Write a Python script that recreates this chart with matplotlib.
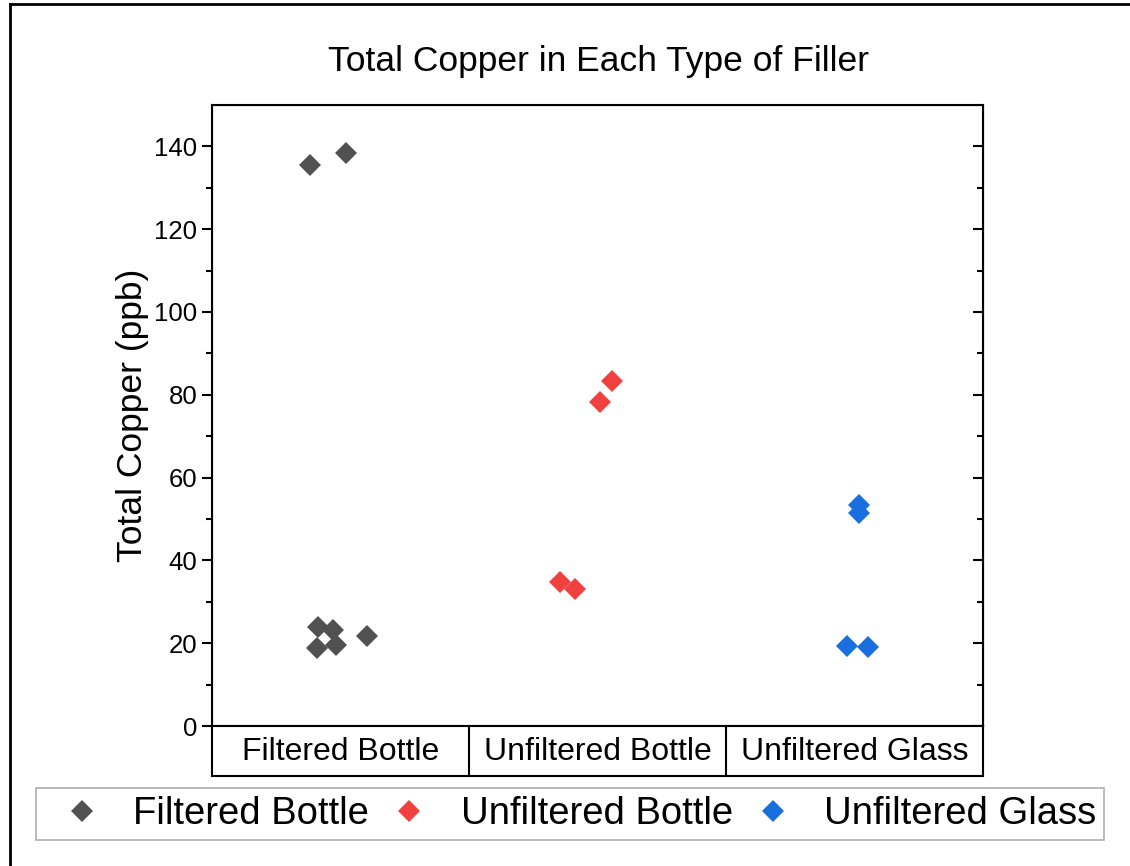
"""Total copper by filler type, Origin-style scatter with category boxes."""

import matplotlib

matplotlib.use("Agg")
import matplotlib.pyplot as plt
from matplotlib.lines import Line2D
from matplotlib.ticker import FixedLocator, MultipleLocator

plt.rcParams["font.family"] = ["Liberation Sans", "DejaVu Sans"]

# categories and measured values (ppb), x jitter around each category
categories = ["Filtered Bottle", "Unfiltered Bottle", "Unfiltered Glass"]

filtered_bottle_x = [0.88, 1.02, 0.914, 0.97, 0.907, 0.984, 1.105]
filtered_bottle_y = [135.4, 138.3, 24.0, 23.3, 18.9, 19.6, 21.8]

unfiltered_bottle_x = [2.058, 2.008, 1.856, 1.911]
unfiltered_bottle_y = [83.4, 78.3, 34.8, 33.1]

unfiltered_glass_x = [3.016, 3.016, 2.969, 3.054]
unfiltered_glass_y = [53.4, 51.5, 19.3, 19.1]

colors = ["#515151", "#F14040", "#1A6FDF"]

W, H = 1130, 866
fig = plt.figure(figsize=(W / 100, H / 100), dpi=100)

# main axes
ax = fig.add_axes([212 / W, 1 - 726 / H, (983 - 212) / W, (726 - 105) / H])
series = [
    (filtered_bottle_x, filtered_bottle_y),
    (unfiltered_bottle_x, unfiltered_bottle_y),
    (unfiltered_glass_x, unfiltered_glass_y),
]
handles = []
for (xs, ys), color, name in zip(series, colors, categories):
    h, = ax.plot(xs, ys, linestyle="none", marker="D", markersize=10.7,
                 color=color, markeredgewidth=0, label=name)
    handles.append(h)

minor_ticks = list(range(10, 150, 20))

ax.set_xlim(0.5, 3.5)
ax.set_ylim(0, 150)
ax.set_xticks([])
ax.yaxis.set_major_locator(MultipleLocator(20))
ax.yaxis.set_minor_locator(FixedLocator(minor_ticks))
ax.tick_params(axis="y", which="both", direction="out", left=True, right=False,
               labelsize=18.5, width=1.5)
ax.tick_params(axis="y", which="major", length=7)
ax.tick_params(axis="y", which="minor", length=4)
for spine in ax.spines.values():
    spine.set_linewidth(1.5)
ax.set_ylabel("Total Copper (ppb)", fontsize=25.5, labelpad=4)

# inward ticks on the right side
ax_r = ax.twinx()
ax_r.set_ylim(ax.get_ylim())
ax_r.yaxis.set_major_locator(MultipleLocator(20))
ax_r.yaxis.set_minor_locator(FixedLocator(minor_ticks))
ax_r.tick_params(axis="y", which="both", direction="in", labelright=False, width=1.5)
ax_r.tick_params(axis="y", which="major", length=7)
ax_r.tick_params(axis="y", which="minor", length=4)

# category label boxes under the plot
cat_ax = fig.add_axes([212 / W, 1 - 776 / H, (983 - 212) / W, 50 / H])
cat_ax.set_xlim(0.5, 3.5)
cat_ax.set_ylim(0, 1)
cat_ax.set_xticks([])
cat_ax.set_yticks([])
for spine in cat_ax.spines.values():
    spine.set_linewidth(1.5)
for i, name in enumerate(categories):
    cat_ax.text(i + 1, 0.47, name, ha="center", va="center", fontsize=23)
    if i > 0:
        cat_ax.axvline(i + 0.5, color="black", linewidth=1.5)

fig.text(598 / W, 1 - 61 / H, "Total Copper in Each Type of Filler",
         ha="center", va="center", fontsize=25.5)

leg = fig.legend(handles=handles, loc="center", ncol=3,
                 bbox_to_anchor=(570 / W, 1 - 814 / H), fontsize=27.5,
                 frameon=True, fancybox=False, edgecolor="#999999",
                 handlelength=2.0, handletextpad=0.35, columnspacing=0.05,
                 borderpad=0.2, markerscale=1.0)
leg.get_frame().set_linewidth(1.2)

# outer border (top and left edges visible)
fig.add_artist(Line2D([10 / W, 10 / W], [0, 1 - 4 / H], color="black",
                      linewidth=2, transform=fig.transFigure))
fig.add_artist(Line2D([10 / W, 1], [1 - 4 / H, 1 - 4 / H], color="black",
                      linewidth=2, transform=fig.transFigure))

fig.savefig("out.png", dpi=100)
